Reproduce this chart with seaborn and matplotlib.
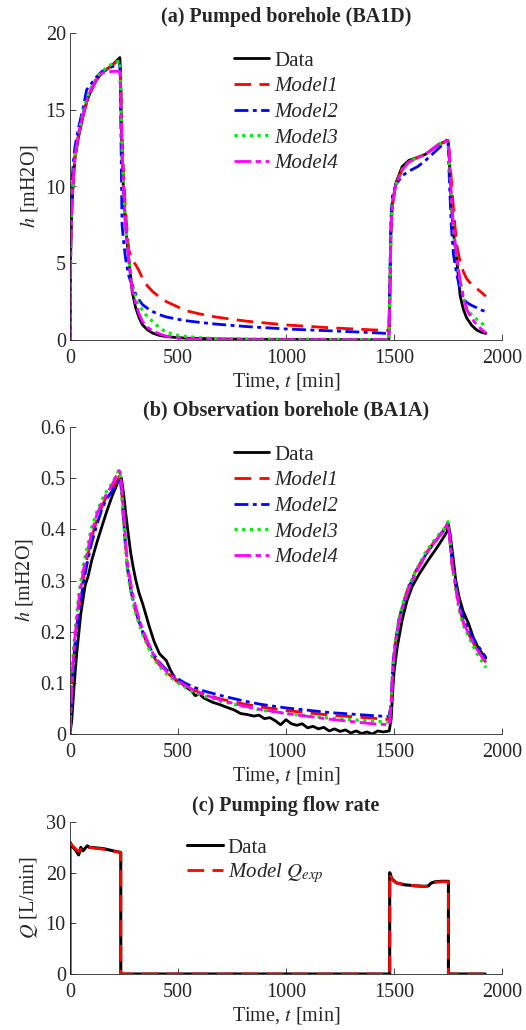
import matplotlib
matplotlib.use("Agg")
import matplotlib.pyplot as plt
import seaborn as sns

# ---- (a) pumped borehole BA1D ----
t_a = [0, 3, 8, 15, 23, 39, 62, 77, 93, 120,
       148, 195, 231, 234, 241, 249, 257, 265, 272, 280,
       288, 304, 320, 336, 360, 383, 414, 446, 500, 540,
       600, 665, 750, 822, 1000, 1200, 1400, 1476, 1480, 1486,
       1493, 1508, 1538, 1569, 1610, 1646, 1708, 1750, 1756, 1765,
       1775, 1790, 1806, 1821, 1836, 1860, 1883, 1905, 1925]
data_a = [0, 5.5, 8.4, 10.3, 11.85, 13.2, 14.7, 15.5, 16.1, 16.9,
          17.4, 17.9, 18.4, 17.0, 11.85, 9.3, 7.5, 6.3, 5.35, 4.2,
          3.15, 2.1, 1.45, 0.98, 0.65, 0.45, 0.3, 0.22, 0.15, 0.12,
          0.1, 0.08, 0.06, 0.05, 0.04, 0.03, 0.02, 0.02, 2.0, 7.3,
          8.9, 10.2, 11.3, 11.7, 11.9, 12.1, 12.75, 13.0, 11.8, 9.0,
          7.0, 5.3, 2.9, 2.0, 1.45, 0.95, 0.65, 0.5, 0.43]
model1_a = [0, 6, 8.8, 10.6, 12.0, 13.3, 14.7, 15.5, 16.1, 16.9,
            17.4, 17.9, 18.3, 17.5, 13.5, 10.5, 8.4, 7.0, 5.9, 5.5,
            5.2, 4.9, 4.5, 4.0, 3.5, 3.15, 2.8, 2.5, 2.15, 1.9,
            1.7, 1.52, 1.35, 1.22, 0.98, 0.8, 0.66, 0.62, 2.5, 7.0,
            8.8, 10.1, 11.1, 11.6, 11.9, 12.1, 12.75, 13.0, 12.3, 10.5,
            8.6, 6.2, 5.1, 4.45, 4.0, 3.6, 3.35, 3.1, 2.85]
model2_a = [0, 7, 10.1, 11.5, 12.6, 13.8, 15.2, 16.3, 16.6, 17.1,
            17.5, 17.8, 18.0, 15.5, 7.5, 6.3, 5.35, 4.7, 4.2, 3.85,
            3.6, 3.0, 2.6, 2.3, 2.05, 1.85, 1.65, 1.5, 1.35, 1.25,
            1.15, 1.05, 0.95, 0.87, 0.72, 0.6, 0.48, 0.42, 3.5, 8.0,
            9.4, 10.1, 10.7, 11.0, 11.3, 11.7, 12.5, 13.1, 10.5, 7.5,
            5.6, 4.3, 3.3, 2.75, 2.45, 2.25, 2.1, 1.95, 1.85]
model3_a = [0, 5.5, 8.6, 10.5, 12.0, 13.4, 14.9, 15.7, 16.3, 17.0,
            17.5, 18.0, 18.2, 17.0, 12.5, 9.6, 7.6, 6.3, 5.3, 4.4,
            3.6, 2.8, 2.3, 1.9, 1.5, 1.2, 0.8, 0.5, 0.3, 0.22,
            0.15, 0.1, 0.08, 0.06, 0.05, 0.04, 0.03, 0.03, 2.0, 7.3,
            8.9, 10.1, 11.1, 11.6, 11.9, 12.1, 12.75, 12.95, 11.8, 9.2,
            7.2, 5.4, 3.8, 2.8, 2.1, 1.6, 1.35, 1.1, 0.9]
model4_a = [0, 5.5, 8.6, 10.5, 12.0, 13.4, 14.8, 15.6, 16.2, 16.9,
            17.4, 17.5, 17.5, 16.5, 12.5, 9.6, 7.6, 6.3, 5.2, 4.2,
            3.3, 2.4, 1.7, 1.2, 0.8, 0.6, 0.4, 0.25, 0.12, 0.08,
            0.05, 0.03, 0.02, 0.02, 0.02, 0.02, 0.02, 0.02, 2.0, 7.3,
            8.9, 10.1, 11.1, 11.6, 11.9, 12.1, 12.75, 13.0, 12.0, 9.5,
            7.4, 5.5, 3.9, 2.8, 2.0, 1.4, 1.0, 0.7, 0.45]

# ---- (b) observation borehole BA1A ----
t_b_data = [0, 8, 20, 31, 50, 70, 85, 101, 125, 148, 170, 195, 215, 231, 238, 248, 258, 270,
            281, 293, 305, 320, 336, 350, 367, 390, 414, 430, 445, 465, 492, 515, 539, 560,
            580, 600, 617, 640, 660, 690, 727, 760, 790, 820, 852, 875, 900, 925, 950, 975,
            1000, 1025, 1050, 1075, 1100, 1125, 1150, 1175, 1200, 1225, 1250, 1275, 1300,
            1325, 1350, 1375, 1400, 1425, 1450, 1478, 1487, 1495, 1500, 1515, 1538, 1560,
            1585, 1620, 1662, 1700, 1723, 1745, 1752, 1760, 1775, 1785, 1800, 1820, 1846,
            1870, 1895, 1925]
data_b = [0, 0.026, 0.1, 0.157, 0.235, 0.29, 0.31, 0.34, 0.375, 0.406, 0.435, 0.465, 0.485,
          0.505, 0.5, 0.47, 0.432, 0.39, 0.354, 0.325, 0.30, 0.275, 0.255, 0.235, 0.21, 0.18,
          0.157, 0.15, 0.144, 0.125, 0.104, 0.1, 0.091, 0.085, 0.075, 0.078, 0.071, 0.066,
          0.062, 0.058, 0.052, 0.047, 0.04, 0.038, 0.035, 0.037, 0.03, 0.032, 0.026, 0.018,
          0.028, 0.02, 0.017, 0.02, 0.012, 0.015, 0.01, 0.013, 0.006, 0.01, 0.005, 0.008,
          0.002, 0.006, 0.001, 0.004, 0.0, 0.006, 0.004, 0.006, 0.03, 0.09, 0.12, 0.17,
          0.223, 0.26, 0.289, 0.315, 0.342, 0.365, 0.38, 0.395, 0.41, 0.39, 0.34, 0.303,
          0.27, 0.24, 0.215, 0.185, 0.165, 0.148]
t_b = [0, 5, 12, 23, 40, 62, 80, 101, 125, 148,
       170, 195, 226, 232, 240, 249, 257, 265, 273, 281,
       293, 305, 320, 336, 360, 383, 414, 445, 492, 530,
       570, 620, 700, 800, 883, 1000, 1200, 1400, 1478, 1487,
       1493, 1500, 1510, 1523, 1545, 1569, 1600, 1646, 1680, 1708,
       1730, 1750, 1756, 1769, 1785, 1800, 1823, 1846, 1880, 1925]
model1_b = [0, 0.055, 0.12, 0.18, 0.245, 0.305, 0.345, 0.385, 0.42, 0.445,
            0.465, 0.48, 0.5, 0.505, 0.47, 0.41, 0.367, 0.328, 0.303, 0.283,
            0.258, 0.238, 0.218, 0.198, 0.175, 0.153, 0.135, 0.121, 0.105, 0.095,
            0.086, 0.078, 0.068, 0.059, 0.053, 0.046, 0.037, 0.031, 0.028, 0.06,
            0.12, 0.16, 0.19, 0.225, 0.26, 0.29, 0.318, 0.352, 0.372, 0.388,
            0.398, 0.412, 0.392, 0.33, 0.29, 0.25, 0.215, 0.195, 0.168, 0.14]
model2_b = [0, 0.05, 0.11, 0.17, 0.235, 0.295, 0.335, 0.375, 0.41, 0.44,
            0.46, 0.475, 0.495, 0.5, 0.47, 0.415, 0.37, 0.33, 0.305, 0.285,
            0.26, 0.24, 0.22, 0.2, 0.178, 0.158, 0.14, 0.126, 0.11, 0.1,
            0.092, 0.084, 0.075, 0.065, 0.058, 0.051, 0.042, 0.036, 0.034, 0.062,
            0.118, 0.157, 0.187, 0.222, 0.257, 0.287, 0.315, 0.35, 0.37, 0.386,
            0.397, 0.412, 0.395, 0.335, 0.296, 0.258, 0.224, 0.204, 0.178, 0.15]
model3_b = [0, 0.07, 0.14, 0.2, 0.27, 0.33, 0.365, 0.405, 0.435, 0.458,
            0.475, 0.49, 0.515, 0.51, 0.47, 0.41, 0.365, 0.325, 0.3, 0.28,
            0.255, 0.235, 0.215, 0.195, 0.172, 0.15, 0.132, 0.118, 0.102, 0.092,
            0.082, 0.074, 0.064, 0.054, 0.047, 0.04, 0.031, 0.025, 0.023, 0.06,
            0.12, 0.16, 0.19, 0.225, 0.26, 0.29, 0.318, 0.355, 0.375, 0.39,
            0.4, 0.415, 0.395, 0.33, 0.285, 0.245, 0.21, 0.19, 0.16, 0.13]
model4_b = [0, 0.06, 0.13, 0.19, 0.26, 0.32, 0.355, 0.395, 0.43, 0.452,
            0.47, 0.487, 0.515, 0.513, 0.48, 0.425, 0.38, 0.34, 0.315, 0.295,
            0.268, 0.247, 0.225, 0.205, 0.18, 0.158, 0.138, 0.123, 0.106, 0.096,
            0.086, 0.077, 0.066, 0.055, 0.048, 0.04, 0.029, 0.02, 0.018, 0.055,
            0.115, 0.155, 0.185, 0.22, 0.255, 0.285, 0.313, 0.35, 0.37, 0.386,
            0.397, 0.413, 0.393, 0.332, 0.29, 0.25, 0.216, 0.196, 0.168, 0.14]

# ---- (c) pumping flow rate ----
t_c = [0, 0, 10, 25, 40, 50, 60, 70, 80, 90, 120, 160, 200, 235, 235, 1480, 1480, 1490, 1510, 1550,
       1600, 1640, 1660, 1670, 1690, 1720, 1752, 1752, 1922]
q_data = [0, 26, 25.2, 24.5, 23.5, 25, 24.3, 24.8, 25.3, 25.0, 24.9, 24.7, 24.3, 24.0, 0, 0, 20,
          18.8, 18.0, 17.6, 17.4, 17.3, 17.4, 17.9, 18.2, 18.3, 18.3, 0, 0]
t_c_model = [0, 10, 25, 40, 50, 60, 70, 80, 90, 120, 160, 200, 235, 235, 1480, 1480, 1490, 1510,
             1550, 1600, 1640, 1660, 1670, 1690, 1720, 1752, 1752, 1922]
q_model = [26, 25.4, 24.7, 24.2, 24.6, 24.4, 24.7, 25.1, 25.0, 24.8, 24.6, 24.2, 24.0, 0, 0, 19.8,
           18.7, 18.0, 17.6, 17.4, 17.3, 17.3, 17.8, 18.1, 18.2, 18.2, 0, 0]

x_ticks = [0, 500, 1000, 1500, 2000]
yticks_a = [0, 5, 10, 15, 20]
yticks_b = [0, 0.1, 0.2, 0.3, 0.4, 0.5, 0.6]
yticklabels_b = ["0", "0.1", "0.2", "0.3", "0.4", "0.5", "0.6"]
yticks_c = [0, 10, 20, 30]

labels = ["Data", "Model1", "Model2", "Model3", "Model4"]
colors = ["black", "#ff0000", "#0000ff", "#00ee00", "#ff00ff"]
styles = ["-", (0, (6, 3)), (0, (5, 1.6, 1.4, 1.6)), (0, (1, 1.4)), (0, (6, 1.6, 2, 1.6))]
widths = [2.0, 2.0, 2.0, 2.3, 2.0]

sns.set_style("ticks")
plt.rcParams["font.family"] = ["Liberation Serif", "DejaVu Serif"]
plt.rcParams["mathtext.fontset"] = "stix"
plt.rcParams["axes.edgecolor"] = "#262626"
plt.rcParams["xtick.color"] = "#262626"
plt.rcParams["ytick.color"] = "#262626"

W, H = 526, 1030
fig = plt.figure(figsize=(W / 100, H / 100), dpi=100)


def make_ax(top, bottom):
    return fig.add_axes([70 / W, (H - bottom) / H, 432 / W, (bottom - top) / H])


def style_ax(ax, title, ylabel, ylim, yticks):
    ax.set_xlim(0, 2000)
    ax.set_ylim(*ylim)
    ax.set_xticks(x_ticks)
    ax.set_yticks(yticks)
    ax.tick_params(direction="in", length=4, width=0.6, labelsize=14.5)
    ax.tick_params(axis="x", pad=6.5)
    ax.tick_params(axis="y", pad=3)
    for s in ["top", "right"]:
        ax.spines[s].set_visible(False)
    for s in ["left", "bottom"]:
        ax.spines[s].set_linewidth(0.6)
    ax.set_title(title, fontsize=14.5, fontweight="bold", pad=8)
    ax.set_xlabel("Time, $t$ [min]", fontsize=14.5, labelpad=2.5)
    ax.set_ylabel(ylabel, fontsize=14.5, labelpad=4)


def italic_models(leg):
    for txt in leg.get_texts()[1:]:
        txt.set_fontstyle("italic")


legend_kw = dict(loc="upper left", frameon=False, fontsize=15, handlelength=1.7,
                 handletextpad=0.25, borderaxespad=0)

ax_a = make_ax(33, 340)
series_a = [data_a, model1_a, model2_a, model3_a, model4_a]
for y, lab, c, ls, lw in zip(series_a, labels, colors, styles, widths):
    sns.lineplot(x=t_a, y=y, ax=ax_a, color=c, linestyle=ls, lw=lw, label=lab,
                 estimator=None, sort=False)
style_ax(ax_a, "(a) Pumped borehole (BA1D)", "$h$ [mH2O]", (0, 20), yticks_a)
italic_models(ax_a.legend(bbox_to_anchor=(0.36, 0.968), labelspacing=0.29, **legend_kw))

ax_b = make_ax(427, 734)
sns.lineplot(x=t_b_data, y=data_b, ax=ax_b, color=colors[0], linestyle=styles[0], lw=widths[0],
             label=labels[0], estimator=None, sort=False)
series_b = [model1_b, model2_b, model3_b, model4_b]
for y, lab, c, ls, lw in zip(series_b, labels[1:], colors[1:], styles[1:], widths[1:]):
    sns.lineplot(x=t_b, y=y, ax=ax_b, color=c, linestyle=ls, lw=lw, label=lab,
                 estimator=None, sort=False)
style_ax(ax_b, "(b) Observation borehole (BA1A)", "$h$ [mH2O]", (0, 0.6), yticks_b)
ax_b.set_yticklabels(yticklabels_b)
italic_models(ax_b.legend(bbox_to_anchor=(0.36, 0.968), labelspacing=0.29, **legend_kw))

ax_c = make_ax(822, 974)
sns.lineplot(x=t_c, y=q_data, ax=ax_c, color="black", lw=2.2, label="Data",
             estimator=None, sort=False)
sns.lineplot(x=t_c_model, y=q_model, ax=ax_c, color="#ff0000", linestyle=(0, (6, 3)), lw=2.0,
             label="Model $Q_{exp}$", estimator=None, sort=False)
style_ax(ax_c, "(c) Pumping flow rate", "$Q$ [L/min]", (0, 30), yticks_c)
italic_models(ax_c.legend(bbox_to_anchor=(0.252, 0.95), labelspacing=0.15, **legend_kw))

fig.savefig("out.png", dpi=100)
